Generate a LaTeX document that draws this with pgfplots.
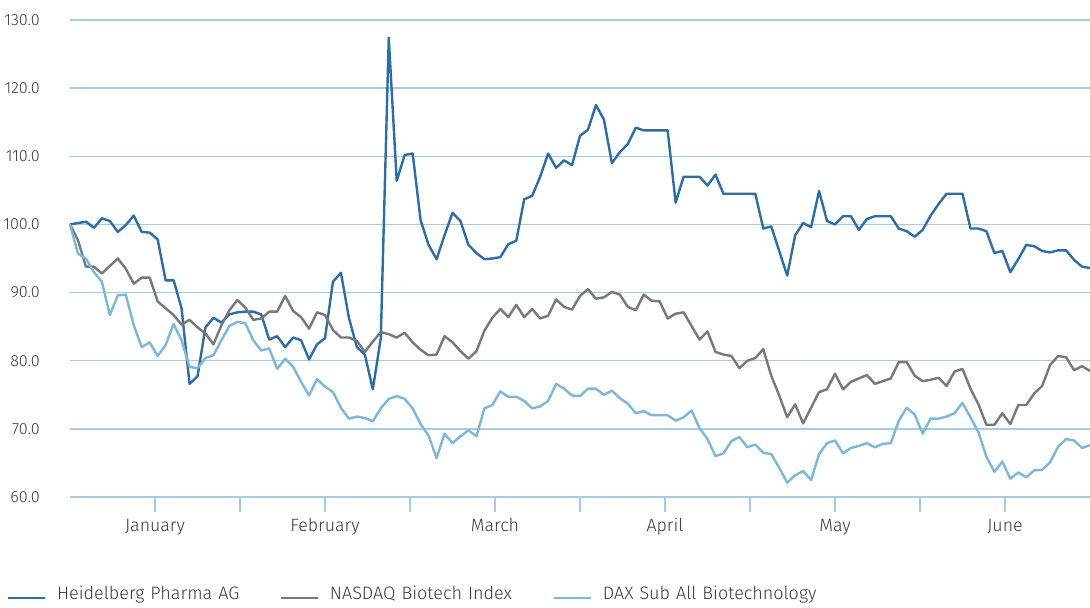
\documentclass[border=0pt]{standalone}
\usepackage{fontspec}
\setmainfont{Fira Sans Light}
\usepackage{pgfplots}
\pgfplotsset{compat=1.18}
\definecolor{hp}{HTML}{2E6CA6}
\definecolor{nq}{HTML}{787878}
\definecolor{dx}{HTML}{7DB5DB}
\definecolor{gridc}{HTML}{A6CBE3}
\definecolor{txt}{HTML}{3A3A3A}
\pgfplotstableread{
i H N D
0 100.0 100.0 100.0
1 100.2 97.7 95.7
2 100.4 93.8 95.0
3 99.5 93.8 93.0
4 100.9 92.8 91.6
5 100.5 93.9 86.7
6 98.9 95.0 89.6
7 99.9 93.5 89.7
8 101.3 91.3 85.2
9 98.9 92.2 82.0
10 98.8 92.2 82.7
11 97.8 88.7 80.7
12 91.8 87.7 82.3
13 91.8 86.7 85.4
14 87.7 85.3 83.0
15 76.6 86.0 79.1
16 77.7 84.9 78.9
17 84.9 84.0 80.4
18 86.3 82.4 80.8
19 85.6 85.2 83.0
20 86.8 87.4 85.1
21 87.1 88.9 85.7
22 87.2 87.8 85.5
23 87.2 86.0 83.0
24 86.8 86.2 81.5
25 83.1 87.2 81.8
26 83.6 87.2 78.8
27 82.0 89.5 80.3
28 83.4 87.3 79.1
29 83.0 86.4 76.9
30 80.2 84.7 74.9
31 82.4 87.1 77.3
32 83.3 86.7 76.2
33 91.6 84.5 75.4
34 92.9 83.4 73.1
35 86.3 83.4 71.5
36 82.0 82.9 71.8
37 80.9 81.3 71.6
38 75.8 82.8 71.1
39 83.3 84.2 73.0
40 127.4 83.9 74.4
41 106.4 83.4 74.8
42 110.2 84.1 74.4
43 110.4 82.7 73.0
44 100.6 81.6 70.7
45 97.0 80.8 69.0
46 94.9 80.9 65.7
47 98.4 83.6 69.3
48 101.7 82.7 67.9
49 100.5 81.4 68.9
50 97.0 80.3 69.8
51 95.8 81.4 68.9
52 94.9 84.4 73.0
53 95.0 86.3 73.5
54 95.2 87.6 75.5
55 97.1 86.4 74.7
56 97.6 88.2 74.7
57 103.7 86.4 74.1
58 104.2 87.6 73.0
59 107.0 86.2 73.3
60 110.4 86.6 74.1
61 108.3 89.0 76.6
62 109.4 87.9 75.9
63 108.7 87.5 74.9
64 113.0 89.5 74.8
65 113.9 90.5 75.9
66 117.5 89.1 75.9
67 115.4 89.3 75.0
68 109.0 90.1 75.6
69 110.6 89.7 74.5
70 111.8 87.9 73.7
71 114.2 87.4 72.3
72 113.8 89.7 72.6
73 113.8 88.8 72.0
74 113.8 88.7 72.0
75 113.8 86.2 72.0
76 103.2 86.9 71.2
77 107.0 87.1 71.7
78 107.0 85.1 72.7
79 107.0 83.1 70.1
80 105.7 84.3 68.5
81 107.3 81.3 66.0
82 104.5 80.9 66.4
83 104.5 80.7 68.2
84 104.5 78.9 68.8
85 104.5 80.0 67.3
86 104.5 80.4 67.7
87 99.4 81.7 66.5
88 99.7 77.8 66.3
89 96.1 74.9 64.3
90 92.5 71.7 62.1
91 98.4 73.6 63.2
92 100.2 70.8 63.8
93 99.6 73.1 62.5
94 104.9 75.4 66.3
95 100.5 75.8 67.9
96 100.0 78.1 68.3
97 101.2 75.8 66.4
98 101.2 76.9 67.2
99 99.2 77.4 67.5
100 100.8 77.9 67.9
101 101.2 76.6 67.3
102 101.2 77.0 67.8
103 101.2 77.4 67.9
104 99.4 79.8 71.2
105 99.0 79.8 73.1
106 98.2 77.8 72.1
107 99.2 77.0 69.3
108 101.3 77.2 71.5
109 103.0 77.5 71.5
110 104.5 76.3 71.8
111 104.5 78.4 72.3
112 104.5 78.8 73.8
113 99.4 75.9 71.7
114 99.4 73.6 69.5
115 99.0 70.6 65.9
116 95.8 70.6 63.7
117 96.1 72.3 65.2
118 93.0 70.7 62.7
119 94.9 73.5 63.6
120 97.0 73.5 62.9
121 96.8 75.2 63.9
122 96.1 76.3 64.0
123 95.9 79.4 65.1
124 96.2 80.7 67.4
125 96.2 80.5 68.5
126 94.8 78.6 68.3
127 93.8 79.2 67.2
128 93.6 78.5 67.6
}\data
\begin{document}
\begin{tikzpicture}
\path[use as bounding box] (-70bp,-111bp) rectangle (1020bp,497bp);
\begin{axis}[
  at={(0,0)}, anchor=south west,
  scale only axis, width=1020bp, height=477bp,
  xmin=0, xmax=128, ymin=60, ymax=130,
  clip=false,
  axis line style={draw=none},
  xtick pos=bottom, ytick pos=left,
  ytick={60,70,...,130},
  ymajorgrids,
  grid style={draw=gridc, line width=1.5bp},
  ytick style={draw=none},
  xtick={10.6667,21.3333,32,42.6667,53.3333,64,74.6667,85.3333,96,106.6667,117.3333},
  xticklabels={January,,February,,March,,April,,May,,June},
  xtick style={draw=gridc, line width=1.2bp},
  tick align=outside,
  major tick length=15bp,
  /pgf/number format/.cd, fixed, fixed zerofill, precision=1, assume math mode=true,
  /pgfplots/.cd,
  yticklabel style={anchor=east, inner sep=0pt, xshift=-15bp, font=\fontsize{16.2bp}{19bp}\selectfont, text=txt},
  xticklabel style={anchor=base, inner sep=0pt, yshift=-19bp, font=\fontsize{17.8bp}{20bp}\selectfont, text=txt},
  legend columns=3,
  legend style={at={(-63bp,-96.5bp)}, anchor=west, draw=none, fill=none, inner sep=0pt,
    font=\fontsize{18bp}{21bp}\selectfont, text=txt,
    nodes={inner sep=0pt, anchor=west, text width=223bp, align=left},
    /tikz/every odd column/.append style={column sep=11bp},
    /tikz/every even column/.append style={column sep=0bp}},
  legend image code/.code={\draw[#1, line width=2.2bp] (0bp,-4.3bp) -- (36.7bp,-4.3bp);},
  every axis plot/.append style={line width=2.4bp, line join=round},
]
\addplot[hp] table[x=i,y=H] {\data};
\addlegendentry{Heidelberg Pharma AG}
\addplot[nq] table[x=i,y=N] {\data};
\addlegendentry{NASDAQ Biotech Index}
\addplot[dx] table[x=i,y=D] {\data};
\addlegendentry{DAX Sub All Biotechnology}
\end{axis}
\end{tikzpicture}
\end{document}
